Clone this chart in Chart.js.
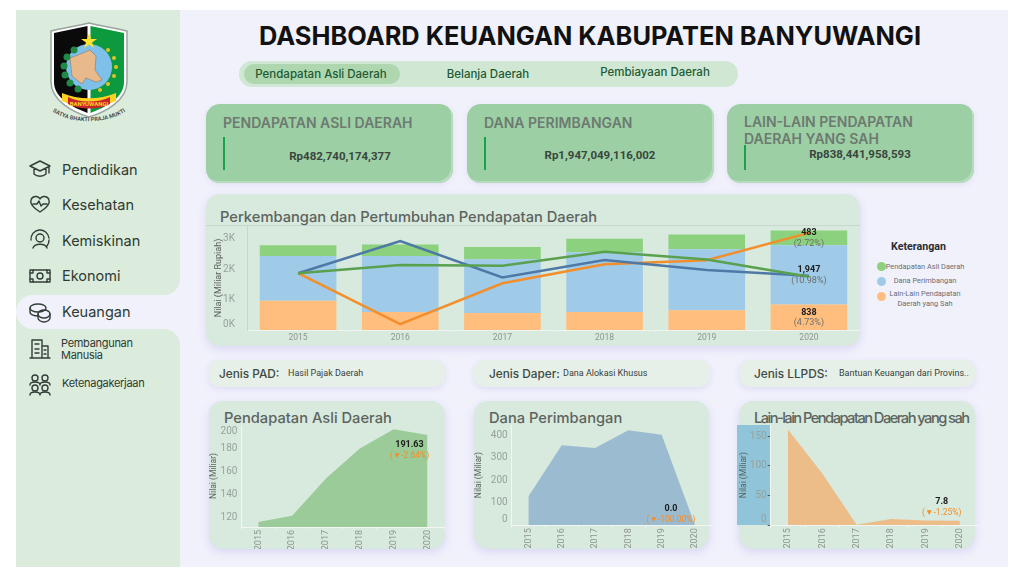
<!DOCTYPE html>
<html>
<head>
<meta charset="utf-8">
<title>Dashboard Keuangan Kabupaten Banyuwangi</title>
<script src="https://cdn.jsdelivr.net/npm/chart.js@4/dist/chart.umd.js"></script>
<style>
  html, body { margin: 0; padding: 0; background: #fff; width: 1024px; height: 575px; overflow: hidden; font-family: Inter, sans-serif; }
  .abs, .card, .pilih, canvas, .menu { position: absolute; }
  #latar { left: 16px; top: 10px; width: 992px; height: 557px; background: #f1f1fb; }
  #sideAtas { left: 16px; top: 10px; width: 164px; height: 285px; background: #dcecdc; border-bottom-right-radius: 16px; }
  #sideBawah { left: 16px; top: 329px; width: 164px; height: 238px; background: #dcecdc; border-top-right-radius: 16px; }
  #sideKiri { left: 16px; top: 290px; width: 20px; height: 44px; background: #dcecdc; }
  #sideAktif { left: 16px; top: 295px; width: 164px; height: 34px; background: #f1f1fb; border-radius: 17px 0 0 17px; }
  .menu { left: 62px; font-size: 14.5px; color: #2e3a33; line-height: 1; }
  .menu.kecil { font-size: 11px; letter-spacing: -0.3px; }
  .ikon { position: absolute; left: 28px; width: 24px; height: 24px; fill: none; stroke: #333d37; stroke-width: 1.4; stroke-linejoin: round; stroke-linecap: round; }
  h1 { position: absolute; left: 206px; width: 768px; top: 20px; margin: 0; text-align: center; font-size: 25.4px; font-weight: 700; color: #111; line-height: 32px; white-space: nowrap; }
  #tab { left: 239px; top: 61px; width: 499px; height: 26px; background: #cfe7d3; border-radius: 13px; }
  #tabAktif { left: 244px; top: 64px; width: 156px; height: 20px; background: #aed7b0; border-radius: 10px; }
  .tabTeks { position: absolute; font-size: 11.5px; font-weight: 500; color: #1d5a33; transform: translateX(-50%); white-space: nowrap; }
  .card { background: #9dcfa5; border-radius: 14px; width: 247px; height: 79px; top: 104px; box-shadow: -2px -2px 0 #b7dcbc inset, 0 2px 6px #e2e0f5; }
  .card .judul { position: absolute; left: 17px; top: 10px; font-size: 14px; font-weight: 600; line-height: 17px; color: #6c7a70; white-space: nowrap; }
  .card .garis { position: absolute; left: 17px; width: 2px; background: #17a34a; }
  .card .nilai { position: absolute; font: 700 11.5px Roboto, sans-serif; color: #39463d; transform: translateX(-50%); white-space: nowrap; }
  .panel { position: absolute; background: #d8e9dd; border-radius: 14px; box-shadow: 0 3px 10px #d9d5f4; }
  .panelJudul { position: absolute; font-size: 14.7px; font-weight: 500; color: #5d645f; white-space: nowrap; }
  .pilih { top: 360px; width: 236px; height: 27px; background: #e6f0e9; border-radius: 10px; box-shadow: 0 2px 6px #dedbf4; white-space: nowrap; }
  .pilih b { position: absolute; left: 10px; top: 7px; font-size: 11.8px; font-weight: 500; color: #3f4a43; }
  .pilih span { position: absolute; top: 8px; font: 9px Roboto, sans-serif; color: #39423c; }
  #ket { left: 891px; top: 240px; font: 700 10.7px Roboto, sans-serif; color: #2c2c33; }
  .dot { position: absolute; width: 9px; height: 9px; border-radius: 50%; left: 877px; }
  .legTeks { position: absolute; left: 880px; width: 90px; text-align: center; font: 7.4px/9.5px Roboto, sans-serif; color: #6a6d74; white-space: nowrap; }
</style>
</head>
<body>
<div class="abs" id="latar"></div>
<div class="abs" id="sideAtas"></div>
<div class="abs" id="sideBawah"></div>
<div class="abs" id="sideKiri"></div>
<div class="abs" id="sideAktif"></div>

<!-- logo -->
<svg class="abs" style="left:48px;top:20px" width="82" height="110" viewBox="0 0 82 110">
  <path d="M3 11 C14 8 30 6 41 3 C52 6 68 8 79 11 L79 62 C79 80 58 92 41 97 C24 92 3 80 3 62 Z" fill="#fff" stroke="#9aa59d" stroke-width="1.5"/>
  <path d="M6 13 L39.5 6 L39.5 93 C24 87 6 78 6 62 Z" fill="#0a0a0a"/>
  <path d="M42.5 6 L76 13 L76 62 C76 78 58 87 42.5 93 Z" fill="#0d9a3f"/>
  <circle cx="41" cy="47" r="23" fill="#7fc0ea"/>
  <path d="M22 38 L30 35 L42 30 L48 36 L47 50 L54 60 L48 62 L38 58 L34 64 L24 56 Z" fill="#e8b98a" stroke="#8a6a48" stroke-width=".5"/>
  <path d="M41 13 L43 19 L49 19 L44 22.5 L46 28 L41 24.5 L36 28 L38 22.5 L33 19 L39 19 Z" fill="#ffe22e"/>
  <g fill="#1f8a45"><circle cx="26" cy="30" r="3.5"/><circle cx="19" cy="37" r="3.5"/><circle cx="16" cy="46" r="3.5"/><circle cx="17" cy="55" r="3.5"/><circle cx="22" cy="63" r="3.5"/><circle cx="30" cy="69" r="3.5"/></g>
  <g fill="#e2c32a"><circle cx="60" cy="30" r="2"/><circle cx="66" cy="38" r="2"/><circle cx="68" cy="47" r="2"/><circle cx="66" cy="56" r="2"/><circle cx="60" cy="64" r="2"/><circle cx="52" cy="70" r="2"/></g>
  <path d="M14 73 C30 80 52 80 68 73 L68 81 C52 88 30 88 14 81 Z" fill="#ffd21f"/>
  <path d="M20 77 C32 83 50 83 62 77 L62 84 C50 90 32 90 20 84 Z" fill="#c8242c"/>
  <text x="41" y="85.5" font-family="Roboto" font-size="6" font-weight="700" text-anchor="middle" fill="#ffd21f">BANYUWANGI</text>
  <path id="lengkung" d="M3 90 C20 105 62 105 79 90" fill="none"/>
  <text font-family="Roboto" font-size="5.6" font-weight="700" fill="#4b4f4c"><textPath href="#lengkung" startOffset="50%" text-anchor="middle">SATYA BHAKTI PRAJA MUKTI</textPath></text>
</svg>

<!-- menu samping -->
<svg class="ikon" style="top:157px" viewBox="0 0 24 24"><path d="M2 9 L12 4 L22 9 L12 14 Z M6 11 V17 C9 20 15 20 18 17 V11 M21 10 V16"/></svg>
<div class="menu" style="top:163px">Pendidikan</div>
<svg class="ikon" style="top:192px" viewBox="0 0 24 24"><path d="M12 20 C4 15 2 11 3 8 C4 4 10 3 12 7 C14 3 20 4 21 8 C22 11 20 15 12 20 Z M5 12 H9 L11 9 L13 14 L15 12 H19"/></svg>
<div class="menu" style="top:198px">Kesehatan</div>
<svg class="ikon" style="top:228px" viewBox="0 0 24 24"><circle cx="12" cy="10" r="4"/><path d="M5 20 C7 15 17 15 19 20 M3 12 A9 9 0 0 1 21 10 M21 12 A9 9 0 0 1 19 18"/></svg>
<div class="menu" style="top:234px">Kemiskinan</div>
<svg class="ikon" style="top:264px" viewBox="0 0 24 24"><rect x="2" y="6" width="20" height="12"/><circle cx="12" cy="12" r="3"/><path d="M2 9 H5 V6 M22 9 H19 V6 M2 15 H5 V18 M22 15 H19 V18"/></svg>
<div class="menu" style="top:269px">Ekonomi</div>
<svg class="ikon" style="top:300px" viewBox="0 0 24 24"><ellipse cx="10" cy="8" rx="8" ry="4"/><path d="M2 8 V12 C2 15 7 16 10 16"/><ellipse cx="16" cy="14" rx="6" ry="4"/><path d="M10 14 V18 C10 20 13 22 16 22 C19 22 22 20 22 18 V14"/></svg>
<div class="menu" style="top:305px">Keuangan</div>
<svg class="ikon" style="top:336px" viewBox="0 0 24 24"><path d="M2 22 H22 M4 22 V4 H14 V22 M14 10 H20 V22 M7 8 H11 M7 13 H11 M7 17 H11 M16 14 H18 M16 18 H18"/></svg>
<div class="menu kecil" style="top:337px;left:61px;line-height:12px">Pembangunan<br>Manusia</div>
<svg class="ikon" style="top:372px" viewBox="0 0 24 24"><circle cx="7" cy="6" r="3"/><circle cx="17" cy="6" r="3"/><circle cx="7" cy="16" r="3"/><circle cx="17" cy="16" r="3"/><path d="M2 13 C2 9 12 9 12 13 C12 9 22 9 22 13 M2 23 C2 19 12 19 12 23 C12 19 22 19 22 23"/></svg>
<div class="menu kecil" style="top:378px">Ketenagakerjaan</div>

<h1>DASHBOARD KEUANGAN KABUPATEN BANYUWANGI</h1>

<div class="abs" id="tab"></div>
<div class="abs" id="tabAktif"></div>
<div class="tabTeks" style="left:321px;top:67px">Pendapatan Asli Daerah</div>
<div class="tabTeks" style="left:488px;top:67px">Belanja Daerah</div>
<div class="tabTeks" style="left:655px;top:65px">Pembiayaan Daerah</div>

<div class="card" style="left:206px">
  <div class="judul">PENDAPATAN ASLI DAERAH</div>
  <div class="garis" style="top:33px;height:33px"></div>
  <div class="nilai" style="left:134px;top:45px">Rp482,740,174,377</div>
</div>
<div class="card" style="left:467px">
  <div class="judul">DANA PERIMBANGAN</div>
  <div class="garis" style="top:33px;height:33px"></div>
  <div class="nilai" style="left:133px;top:44px">Rp1,947,049,116,002</div>
</div>
<div class="card" style="left:727px">
  <div class="judul" style="top:9px">LAIN-LAIN PENDAPATAN<br>DAERAH YANG SAH</div>
  <div class="garis" style="top:41px;height:25px"></div>
  <div class="nilai" style="left:133px;top:43px">Rp838,441,958,593</div>
</div>

<!-- grafik utama -->
<div class="panel" style="left:206px;top:194px;width:654px;height:152px"></div>
<div class="abs" style="left:206px;top:225px;width:654px;height:1px;background:#c6d8cb"></div>
<div class="panelJudul" style="left:220px;top:208px">Perkembangan dan Pertumbuhan Pendapatan Daerah</div>
<canvas id="grafikUtama" width="654" height="152" style="left:206px;top:194px"></canvas>

<div id="ket" class="abs">Keterangan</div>
<div class="dot" style="top:262px;background:#8cd17d"></div>
<div class="legTeks" style="top:262px">Pendapatan Asli Daerah</div>
<div class="dot" style="top:277px;background:#a0cbe8"></div>
<div class="legTeks" style="top:276px">Dana Perimbangan</div>
<div class="dot" style="top:292px;background:#ffbe7d"></div>
<div class="legTeks" style="top:289px">Lain-Lain Pendapatan<br>Daerah yang Sah</div>

<!-- pilihan jenis -->
<div class="pilih" style="left:209px"><b>Jenis PAD:</b><span style="left:79px">Hasil Pajak Daerah</span></div>
<div class="pilih" style="left:474px"><b style="left:15px">Jenis Daper:</b><span style="left:89px">Dana Alokasi Khusus</span></div>
<div class="pilih" style="left:739px"><b style="left:15px">Jenis LLPDS:</b><span style="left:100px">Bantuan Keuangan dari Provins..</span></div>

<!-- grafik kecil -->
<div class="panel" style="left:209px;top:401px;width:236px;height:148px"></div>
<div class="panelJudul" style="left:224px;top:409px">Pendapatan Asli Daerah</div>
<canvas id="grafikPad" width="236" height="148" style="left:209px;top:401px"></canvas>

<div class="panel" style="left:474px;top:401px;width:235px;height:148px"></div>
<div class="panelJudul" style="left:489px;top:409px">Dana Perimbangan</div>
<canvas id="grafikDana" width="238" height="148" style="left:474px;top:401px"></canvas>

<div class="panel" style="left:739px;top:401px;width:236px;height:148px"></div>
<div class="abs" style="left:737px;top:425px;width:34px;height:100px;background:#8fc4d9"></div>
<div class="panelJudul" style="left:754px;top:409px;letter-spacing:-1.55px">Lain-lain Pendapatan Daerah yang sah</div>
<canvas id="grafikLain" width="239" height="148" style="left:739px;top:401px"></canvas>

<script>
// Data
const tahun = ['2015', '2016', '2017', '2018', '2019', '2020'];

// batang bertumpuk (miliar rupiah)
const batangLain = [961, 593, 560, 593, 647, 838];
const batangDana = [1476, 1844, 1770, 1963, 2007, 1947];
const batangPad = [346, 378, 398, 444, 485, 483];

// garis pertumbuhan, dibaca pada sumbu yang sama
const garisPad = [1867, 2136, 2113, 2573, 2315, 1748];
const garisDana = [1867, 2922, 1731, 2298, 1974, 1780];
const garisLain = [1867, 194, 1538, 2165, 2294, 3194];

// label pada batang 2020
const labelBatang = ['838', '1,947', '483'];
const persenBatang = ['(4.73%)', '(10.98%)', '(2.72%)'];

// area bawah (miliar)
const areaPad = [116, 121.4, 153.9, 180, 196.8, 191.63];
const areaDana = [128, 357, 345, 424, 403, 0];
const areaLain = [161, 87, 1, 10.5, 7.9, 7.8];

const tickUtama = [0, 1000, 2000, 3000];
const tickPad = [120, 140, 160, 180, 200];
const tickDana = [0, 100, 200, 300, 400];
const tickLain = [0, 50, 100, 150];

const warnaTick = '#98a29b';

// tulisan nilai pada batang tahun terakhir
const labelUtamaPlugin = {
  id: 'labelUtama',
  afterDatasetsDraw(chart) {
    const c = chart.ctx;
    c.save();
    c.textAlign = 'center';
    c.textBaseline = 'middle';
    labelBatang.forEach((teks, i) => {
      const bar = chart.getDatasetMeta(i).data[5];
      const tengah = bar.getCenterPoint();
      c.font = '700 9px Roboto';
      c.fillStyle = '#1c1c1c';
      c.fillText(teks, tengah.x, tengah.y - 5);
      c.font = '9px Roboto';
      c.fillStyle = '#6b6f70';
      c.fillText(persenBatang[i], tengah.x, tengah.y + 5.5);
    });
    c.restore();
  }
};

// tulisan nilai dan perubahan pada grafik area
const catatanPlugin = {
  id: 'catatan',
  afterDatasetsDraw(chart, args, opts) {
    const c = chart.ctx;
    const x = chart.scales.x.getPixelForValue(5) + opts.dx;
    const y = chart.scales.y.getPixelForValue(chart.data.datasets[0].data[5]) + opts.dy;
    c.save();
    c.textAlign = 'center';
    c.textBaseline = 'middle';
    c.font = '700 9px Roboto';
    c.fillStyle = '#1c1c1c';
    c.fillText(opts.nilai, x, y);
    c.font = '8.5px Roboto';
    c.fillStyle = '#f28e2b';
    c.fillText(opts.ubah, x, y + 11);
    c.restore();
  }
};

new Chart(document.getElementById('grafikUtama'), {
  data: {
    labels: tahun,
    datasets: [
      { type: 'bar', data: batangLain, backgroundColor: '#ffbe7d', order: 2 },
      { type: 'bar', data: batangDana, backgroundColor: '#a0cbe8', order: 2 },
      { type: 'bar', data: batangPad, backgroundColor: '#8cd17d', order: 2 },
      { type: 'line', data: garisPad, yAxisID: 'y1', borderColor: '#59a14f', borderWidth: 2.5, pointRadius: 0, order: 1 },
      { type: 'line', data: garisDana, yAxisID: 'y1', borderColor: '#4e79a7', borderWidth: 2.5, pointRadius: 0, order: 1 },
      { type: 'line', data: garisLain, yAxisID: 'y1', borderColor: '#f28e2b', borderWidth: 2.5, pointRadius: 0, order: 1 }
    ]
  },
  options: {
    responsive: false,
    animation: false,
    layout: { autoPadding: false, padding: { top: 32, left: 0, right: 0, bottom: 0 } },
    plugins: { legend: { display: false }, tooltip: { enabled: false } },
    datasets: { bar: { categoryPercentage: 1, barPercentage: 0.75 } },
    scales: {
      x: {
        stacked: true,
        afterFit: axis => { axis.height = 14; },
        border: { color: '#eef4ef' },
        grid: { drawOnChartArea: false, color: '#eef4ef', tickLength: 2 },
        ticks: { color: '#8d958f', font: { family: 'Roboto', size: 8.5 }, padding: 1, maxRotation: 0 }
      },
      y: {
        stacked: true,
        min: 0,
        max: 3420,
        afterFit: axis => { axis.width = 41; },
        afterBuildTicks: axis => { axis.ticks = tickUtama.map(value => ({ value })); },
        border: { color: '#c6d8cb' },
        grid: { display: false },
        // label 0K sedikit naik seperti pada gambar asli
        ticks: {
          autoSkip: false,
          color: warnaTick,
          font: { family: 'Roboto', size: 10 },
          padding: 4,
          callback: v => v === 0 ? ['0K', ''] : (v / 1000) + 'K'
        },
        title: { display: true, text: 'Nilai (Miliar Rupiah)', color: '#5a5f5b', font: { family: 'Roboto', size: 9 }, padding: { top: 7, bottom: 0 } }
      },
      y1: { display: false, min: 0, max: 3420 }
    }
  },
  plugins: [labelUtamaPlugin]
});

function buatArea(id, nilai, tickNilai, warna, rentang, lebarKiri, tinggiBawah, teksTick, warnaGarisTick, catatan) {
  return new Chart(document.getElementById(id), {
    type: 'line',
    data: {
      labels: tahun,
      datasets: [{ data: nilai, fill: 'origin', backgroundColor: warna, borderWidth: 0, pointRadius: 0 }]
    },
    options: {
      responsive: false,
      animation: false,
      layout: { autoPadding: false, padding: { top: 24, left: 0, right: rentang.kanan, bottom: 0 } },
      plugins: { legend: { display: false }, tooltip: { enabled: false }, catatan: catatan },
      scales: {
        x: {
          offset: true,
          afterFit: axis => { axis.height = tinggiBawah; },
          border: { color: '#f2f7f3' },
          grid: { offset: true, drawOnChartArea: false, color: '#f2f7f3', tickLength: 2 },
          ticks: { color: '#8d958f', font: { family: 'Roboto', size: 9 }, padding: 1, minRotation: 90, maxRotation: 90, autoSkip: false }
        },
        y: {
          min: rentang.min,
          max: rentang.max,
          afterFit: axis => { axis.width = lebarKiri; },
          afterBuildTicks: axis => { axis.ticks = tickNilai.map(value => ({ value })); },
          border: { color: '#f2f7f3' },
          grid: { drawOnChartArea: false, color: warnaGarisTick, tickLength: 3 },
          ticks: { autoSkip: false, color: warnaTick, font: { family: 'Roboto', size: 10 }, padding: 1, callback: teksTick },
          title: { display: true, text: 'Nilai (Miliar)', color: '#5a5f5b', font: { family: 'Roboto', size: 8.5 }, padding: 0 }
        }
      }
    },
    plugins: [catatanPlugin]
  });
}

// label tick paling atas / paling bawah digeser setengah baris seperti pada gambar asli
buatArea('grafikPad', areaPad, tickPad, '#9bcb98', { min: 111.6, max: 200.4, kanan: 0.6 }, 32.4, 22,
  v => v === 200 ? ['', '200'] : v, 'rgba(0,0,0,0)', { dx: -18, dy: 9.4, nilai: '191.63', ubah: '(▼-2.64%)' });
buatArea('grafikDana', areaDana, tickDana, '#9bbcd0', { min: 0, max: 447, kanan: 0.3 }, 37.7, 23.7,
  v => v === 0 ? ['0', ''] : v, 'rgba(0,0,0,0)', { dx: -24, dy: -16.6, nilai: '0.0', ubah: '(▼-100.00%)' });
buatArea('grafikLain', areaLain, tickLain, '#ecbd88', { min: 0, max: 168.6, kanan: 1 }, 31.7, 23.7,
  v => v === 0 ? ['0', ''] : v, '#4a5a5a', { dx: -18, dy: -18.7, nilai: '7.8', ubah: '(▼-1.25%)' });
</script>
</body>
</html>
